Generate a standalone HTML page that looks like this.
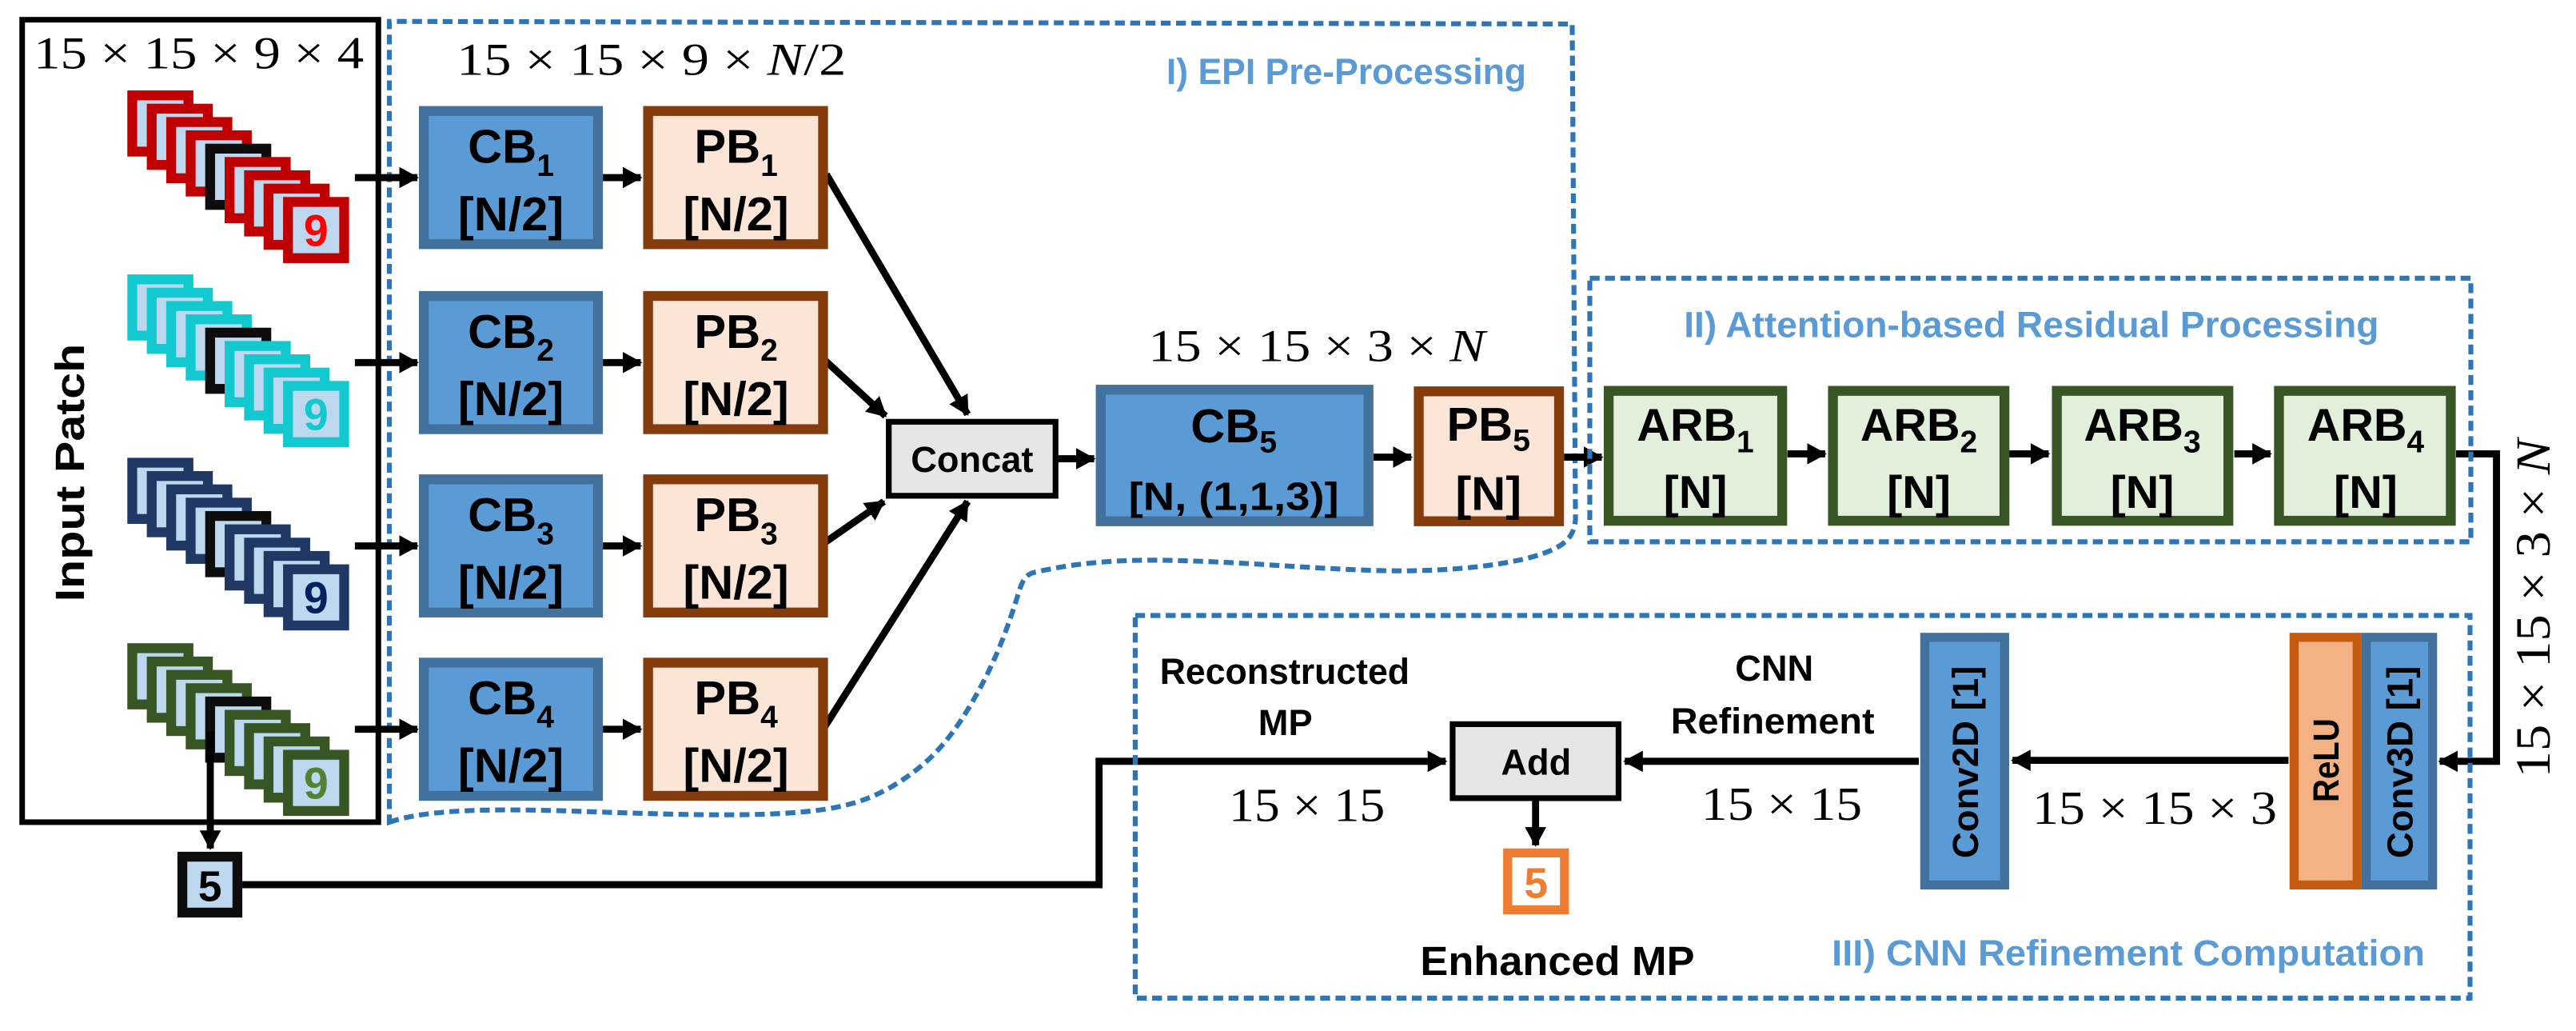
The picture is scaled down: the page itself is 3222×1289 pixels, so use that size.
<!DOCTYPE html>
<html><head><meta charset="utf-8"><style>
html,body{margin:0;padding:0;background:#fff;}
svg{display:block;}
text{font-family:"Liberation Sans",sans-serif;}
.b{font-weight:bold;}
.s{font-family:"Liberation Serif",serif;}
.lbl{fill:#5b9bd5;font-weight:bold;font-size:22px;}
</style></head><body>
<svg width="3222" height="1289" viewBox="0 0 1568 627" preserveAspectRatio="none" xmlns="http://www.w3.org/2000/svg">
<defs>
<marker id="ah" markerUnits="userSpaceOnUse" markerWidth="14" markerHeight="14" refX="11" refY="6.5" orient="auto">
<path d="M0,0 L12,6.5 L0,13 Z" fill="#000"/>
</marker>
<g id="stack">
<rect x="77.5" y="0" width="40.2" height="40.2" fill="currentColor"/><rect x="83.5" y="6" width="28.2" height="28.2" fill="#bdd7ee"/>
<rect x="89.35" y="8.1" width="40.2" height="40.2" fill="currentColor"/><rect x="95.35" y="14.1" width="28.2" height="28.2" fill="#bdd7ee"/>
<rect x="101.2" y="16.2" width="40.2" height="40.2" fill="currentColor"/><rect x="107.2" y="22.2" width="28.2" height="28.2" fill="#bdd7ee"/>
<rect x="113.05" y="24.3" width="40.2" height="40.2" fill="currentColor"/><rect x="119.05" y="30.3" width="28.2" height="28.2" fill="#bdd7ee"/>
<rect x="124.9" y="32.4" width="40.2" height="40.2" fill="#0d0d0d"/><rect x="130.9" y="38.4" width="28.2" height="28.2" fill="#bdd7ee"/>
<rect x="136.75" y="40.5" width="40.2" height="40.2" fill="currentColor"/><rect x="142.75" y="46.5" width="28.2" height="28.2" fill="#bdd7ee"/>
<rect x="148.6" y="48.6" width="40.2" height="40.2" fill="currentColor"/><rect x="154.6" y="54.6" width="28.2" height="28.2" fill="#bdd7ee"/>
<rect x="160.45" y="56.7" width="40.2" height="40.2" fill="currentColor"/><rect x="166.45" y="62.7" width="28.2" height="28.2" fill="#bdd7ee"/>
<rect x="172.3" y="64.8" width="40.2" height="40.2" fill="currentColor"/><rect x="178.3" y="70.8" width="28.2" height="28.2" fill="#bdd7ee"/>
</g>
</defs>

<!-- Input box -->
<rect x="13.5" y="12" width="216.8" height="488" fill="none" stroke="#000" stroke-width="3.4"/>
<text class="s" x="121" y="41.5" font-size="28" text-anchor="middle" textLength="201" lengthAdjust="spacingAndGlyphs">15 × 15 × 9 × 4</text>
<text class="b" transform="translate(51,287.5) rotate(-90)" font-size="25" text-anchor="middle" textLength="157" lengthAdjust="spacingAndGlyphs">Input Patch</text>

<use href="#stack" transform="translate(0,55)" style="color:#c00000"/>
<use href="#stack" transform="translate(0,166.9)" style="color:#12c9cf"/>
<use href="#stack" transform="translate(0,278.4)" style="color:#203864"/>
<use href="#stack" transform="translate(0,391.2)" style="color:#375623"/>
<text class="b" x="192.4" y="149.5" font-size="27" text-anchor="middle" fill="#ff0000">9</text>
<text class="b" x="192.4" y="261.4" font-size="27" text-anchor="middle" fill="#12c9cf">9</text>
<text class="b" x="192.4" y="372.9" font-size="27" text-anchor="middle" fill="#002060">9</text>
<text class="b" x="192.4" y="485.7" font-size="27" text-anchor="middle" fill="#548235">9</text>

<!-- EPI region -->
<path d="M237,500 C260,492 300,492 340,493 C400,495 450,497 486,494 C510,492 525,488 540,480 C565,466 578,450 590,430 C605,405 612,385 617,370 C622,355 622,350 630,348 C660,341 690,340 720,341 C760,342 800,346 840,347 C880,348 915,344 935,338 C955,332 958,325 959,316 L957,14.6 L237,13 Z" fill="none" stroke="#2e75b6" stroke-width="3" stroke-dasharray="6,3.3"/>
<text class="s" x="278" y="45.5" font-size="28" textLength="237" lengthAdjust="spacingAndGlyphs">15 × 15 × 9 × <tspan font-style="italic">N</tspan>/2</text>
<text class="lbl" x="710" y="51" textLength="219" lengthAdjust="spacingAndGlyphs">I) EPI Pre-Processing</text>

<!-- input arrows -->
<g stroke="#000" stroke-width="4.3" marker-end="url(#ah)">
<line x1="216" y1="108" x2="254" y2="108"/>
<line x1="216" y1="220.5" x2="254" y2="220.5"/>
<line x1="216" y1="332" x2="254" y2="332"/>
<line x1="216" y1="443.5" x2="254" y2="443.5"/>
<line x1="367" y1="108" x2="390" y2="108"/>
<line x1="367" y1="220.5" x2="390" y2="220.5"/>
<line x1="367" y1="332" x2="390" y2="332"/>
<line x1="367" y1="443.5" x2="390" y2="443.5"/>
<line x1="503" y1="106" x2="589" y2="252"/>
<line x1="502" y1="219" x2="539" y2="253"/>
<line x1="502" y1="330" x2="538" y2="305"/>
<line x1="502" y1="442" x2="589" y2="305"/>
<line x1="644" y1="279" x2="666" y2="279"/>
<line x1="836" y1="278" x2="859" y2="278"/>
<line x1="952" y1="278" x2="975" y2="278"/>
<line x1="1088" y1="276" x2="1111" y2="276"/>
<line x1="1223" y1="276" x2="1247" y2="276"/>
<line x1="1360" y1="276" x2="1382" y2="276"/>
<polyline points="1495,276 1519.6,276 1519.6,463 1485,463" fill="none"/>
<line x1="1393" y1="462.4" x2="1225" y2="462.4"/>
<line x1="1168" y1="463" x2="989" y2="463"/>
<polyline points="147.5,538 669,538 669,463 880,463" fill="none"/>
<line x1="128" y1="445" x2="128" y2="516"/>
<line x1="934.7" y1="487" x2="934.7" y2="514"/>
</g>

<!-- CB / PB boxes -->
<g stroke-width="6">
<rect x="258" y="67.5" width="106" height="81" fill="#5b9bd5" stroke="#41719c"/>
<rect x="258" y="180" width="106" height="81" fill="#5b9bd5" stroke="#41719c"/>
<rect x="258" y="291.5" width="106" height="81" fill="#5b9bd5" stroke="#41719c"/>
<rect x="258" y="403" width="106" height="81" fill="#5b9bd5" stroke="#41719c"/>
<rect x="394.5" y="67.5" width="106.5" height="81" fill="#fbe5d6" stroke="#843c0c"/>
<rect x="394.5" y="180" width="106.5" height="81" fill="#fbe5d6" stroke="#843c0c"/>
<rect x="394.5" y="291.5" width="106.5" height="81" fill="#fbe5d6" stroke="#843c0c"/>
<rect x="394.5" y="403" width="106.5" height="81" fill="#fbe5d6" stroke="#843c0c"/>
<rect x="670" y="237" width="163" height="80" fill="#5b9bd5" stroke="#41719c"/>
<rect x="863.6" y="238" width="85.4" height="79" fill="#fbe5d6" stroke="#843c0c"/>
<rect x="979.2" y="237.7" width="105.6" height="79" fill="#e2efda" stroke="#375623"/>
<rect x="1115.7" y="237.7" width="104.4" height="79" fill="#e2efda" stroke="#375623"/>
<rect x="1252" y="237.7" width="104.4" height="79" fill="#e2efda" stroke="#375623"/>
<rect x="1387.2" y="237.7" width="104.6" height="79" fill="#e2efda" stroke="#375623"/>
</g>
<g class="b" font-size="29" text-anchor="middle" font-weight="bold">
<text x="311" y="99">CB<tspan font-size="19" dy="8">1</tspan></text>
<text x="311" y="140">[N/2]</text>
<text x="311" y="211.5">CB<tspan font-size="19" dy="8">2</tspan></text>
<text x="311" y="252.5">[N/2]</text>
<text x="311" y="323">CB<tspan font-size="19" dy="8">3</tspan></text>
<text x="311" y="364">[N/2]</text>
<text x="311" y="434.5">CB<tspan font-size="19" dy="8">4</tspan></text>
<text x="311" y="475.5">[N/2]</text>
<text x="448" y="99">PB<tspan font-size="19" dy="8">1</tspan></text>
<text x="448" y="140">[N/2]</text>
<text x="448" y="211.5">PB<tspan font-size="19" dy="8">2</tspan></text>
<text x="448" y="252.5">[N/2]</text>
<text x="448" y="323">PB<tspan font-size="19" dy="8">3</tspan></text>
<text x="448" y="364">[N/2]</text>
<text x="448" y="434.5">PB<tspan font-size="19" dy="8">4</tspan></text>
<text x="448" y="475.5">[N/2]</text>
<text x="751" y="269">CB<tspan font-size="19" dy="6">5</tspan></text>
<text x="751" y="310" font-size="24" textLength="128" lengthAdjust="spacingAndGlyphs">[N, (1,1,3)]</text>
<text x="906" y="268">PB<tspan font-size="19" dy="6">5</tspan></text>
<text x="906" y="310">[N]</text>
<text x="1032" y="268" font-size="28">ARB<tspan font-size="19" dy="7">1</tspan></text>
<text x="1032" y="309" font-size="28">[N]</text>
<text x="1168" y="268" font-size="28">ARB<tspan font-size="19" dy="7">2</tspan></text>
<text x="1168" y="309" font-size="28">[N]</text>
<text x="1304" y="268" font-size="28">ARB<tspan font-size="19" dy="7">3</tspan></text>
<text x="1304" y="309" font-size="28">[N]</text>
<text x="1440" y="268" font-size="28">ARB<tspan font-size="19" dy="7">4</tspan></text>
<text x="1440" y="309" font-size="28">[N]</text>
</g>

<!-- Concat -->
<rect x="541" y="256.5" width="101.5" height="45" fill="#e7e6e6" stroke="#000" stroke-width="3.5"/>
<text class="b" x="591.7" y="287" font-size="22" text-anchor="middle">Concat</text>
<text class="s" x="801.5" y="219.7" font-size="28" text-anchor="middle" textLength="205" lengthAdjust="spacingAndGlyphs">15 × 15 × 3 × <tspan font-style="italic">N</tspan></text>

<!-- Region II -->
<rect x="967.7" y="169.2" width="536.3" height="160.3" fill="none" stroke="#2e75b6" stroke-width="3" stroke-dasharray="6,3.3"/>
<text class="lbl" x="1025" y="205" textLength="423" lengthAdjust="spacingAndGlyphs">II) Attention-based Residual Processing</text>

<text class="s" transform="translate(1552,370) rotate(-90)" font-size="30" text-anchor="middle" textLength="206" lengthAdjust="spacingAndGlyphs">15 × 15 × 3 × <tspan font-style="italic">N</tspan></text>

<!-- Region III -->
<rect x="691" y="374.3" width="812.5" height="232.7" fill="none" stroke="#2e75b6" stroke-width="3" stroke-dasharray="6,3.3"/>
<text class="lbl" x="1115" y="587" textLength="361" lengthAdjust="spacingAndGlyphs">III) CNN Refinement Computation</text>

<rect x="1171.6" y="387.6" width="48.6" height="150.6" fill="#5b9bd5" stroke="#41719c" stroke-width="5.5"/>
<rect x="1396.4" y="387.6" width="38.4" height="150.6" fill="#f4b183" stroke="#c55a11" stroke-width="5.5"/>
<rect x="1440.3" y="387.6" width="40.4" height="150.6" fill="#5b9bd5" stroke="#41719c" stroke-width="5.5"/>
<text class="b" transform="translate(1204,463.5) rotate(-90)" font-size="22" text-anchor="middle" textLength="117" lengthAdjust="spacingAndGlyphs">Conv2D [1]</text>
<text class="b" transform="translate(1468.5,463.5) rotate(-90)" font-size="22" text-anchor="middle" textLength="117" lengthAdjust="spacingAndGlyphs">Conv3D [1]</text>
<text class="b" transform="translate(1423.5,462.4) rotate(-90)" font-size="22" text-anchor="middle" textLength="51" lengthAdjust="spacingAndGlyphs">ReLU</text>

<text class="b" x="1080" y="414" font-size="22" text-anchor="middle">CNN</text>
<text class="b" x="1079" y="446" font-size="22" text-anchor="middle" textLength="124" lengthAdjust="spacingAndGlyphs">Refinement</text>
<text class="s" x="1084.5" y="498.5" font-size="29" text-anchor="middle" textLength="98" lengthAdjust="spacingAndGlyphs">15 × 15</text>
<text class="s" x="1311.5" y="501" font-size="29" text-anchor="middle" textLength="149" lengthAdjust="spacingAndGlyphs">15 × 15 × 3</text>

<!-- Add -->
<rect x="884.2" y="440.4" width="101" height="45" fill="#e7e6e6" stroke="#000" stroke-width="3.5"/>
<text class="b" x="935" y="471" font-size="22" text-anchor="middle">Add</text>
<text class="b" x="782" y="416" font-size="22" text-anchor="middle" textLength="152" lengthAdjust="spacingAndGlyphs">Reconstructed</text>
<text class="b" x="782.4" y="447" font-size="22" text-anchor="middle">MP</text>
<text class="s" x="795.5" y="499.4" font-size="29" text-anchor="middle" textLength="95" lengthAdjust="spacingAndGlyphs">15 × 15</text>

<rect x="917.7" y="518.7" width="34.6" height="34.6" fill="#fff" stroke="#ed7d31" stroke-width="5.5"/>
<text class="b" x="935" y="546" font-size="26" text-anchor="middle" fill="#ed7d31">5</text>
<text class="b" x="948" y="593" font-size="25" text-anchor="middle" textLength="167" lengthAdjust="spacingAndGlyphs">Enhanced MP</text>

<!-- input 5 box -->
<rect x="111" y="521" width="33.5" height="34" fill="#bdd7ee" stroke="#0d0d0d" stroke-width="6"/>
<text class="b" x="127.8" y="548" font-size="26" text-anchor="middle">5</text>
</svg>
</body></html>
